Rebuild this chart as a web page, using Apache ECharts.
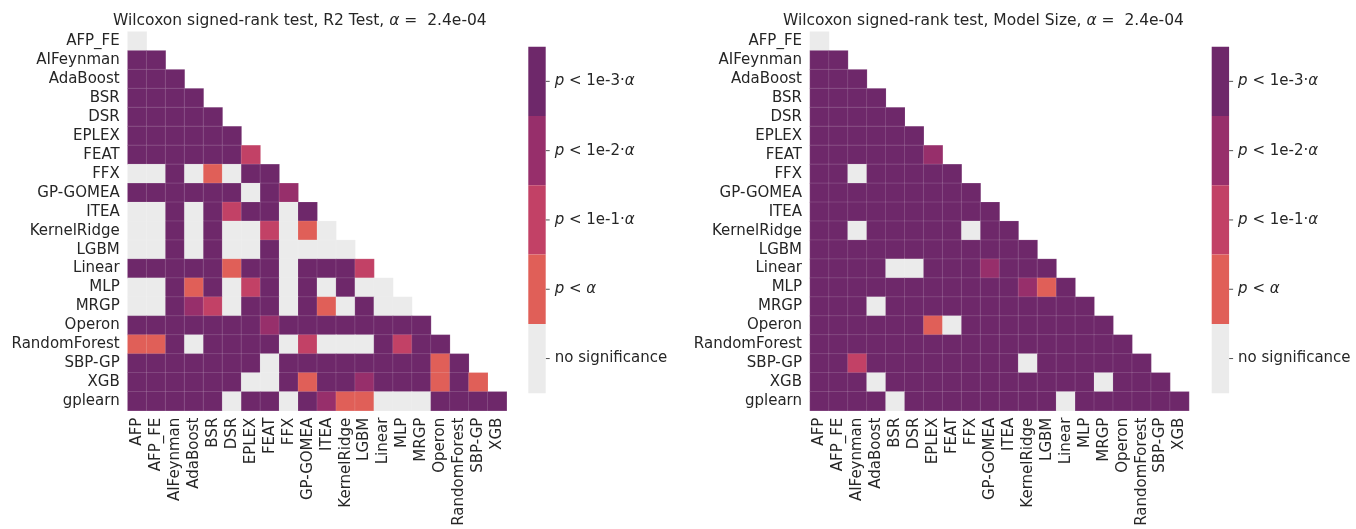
<!DOCTYPE html>
<html>
<head>
<meta charset="utf-8">
<script src="https://cdn.jsdelivr.net/npm/echarts@6/dist/echarts.min.js"></script>
<style>
  html, body { margin: 0; padding: 0; background: #ffffff; }
  #chart { width: 1356px; height: 529px; }
</style>
</head>
<body>
<div id="chart"></div>
<script>
// Methods compared pairwise (lower triangle: row method vs. column method)
const methods = ['AFP', 'AFP_FE', 'AIFeynman', 'AdaBoost', 'BSR', 'DSR', 'EPLEX', 'FEAT', 'FFX',
  'GP-GOMEA', 'ITEA', 'KernelRidge', 'LGBM', 'Linear', 'MLP', 'MRGP', 'Operon', 'RandomForest',
  'SBP-GP', 'XGB', 'gplearn'];
const rowLabels = methods.slice(1);
const colLabels = methods.slice(0, -1);

// Significance level per pair: 0 none, 1 p<α, 2 p<1e-1·α, 3 p<1e-2·α, 4 p<1e-3·α
const r2TestLevels = [
  [0],
  [4, 4],
  [4, 4, 4],
  [4, 4, 4, 4],
  [4, 4, 4, 4, 4],
  [4, 4, 4, 4, 4, 4],
  [4, 4, 4, 4, 4, 4, 2],
  [0, 0, 4, 0, 1, 0, 4, 4],
  [4, 4, 4, 4, 4, 4, 0, 4, 3],
  [0, 0, 4, 0, 4, 2, 4, 4, 0, 4],
  [0, 0, 4, 0, 4, 0, 0, 2, 0, 1, 0],
  [0, 0, 4, 0, 4, 0, 0, 4, 0, 0, 0, 0],
  [4, 4, 4, 4, 4, 1, 4, 4, 0, 4, 4, 4, 2],
  [0, 0, 4, 1, 4, 0, 2, 4, 0, 4, 0, 4, 0, 0],
  [0, 0, 4, 3, 2, 0, 4, 4, 0, 4, 1, 0, 4, 0, 0],
  [4, 4, 4, 4, 4, 4, 4, 3, 4, 4, 4, 4, 4, 4, 4, 4],
  [1, 1, 4, 0, 4, 4, 4, 4, 0, 2, 0, 0, 0, 4, 2, 4, 4],
  [4, 4, 4, 4, 4, 4, 4, 0, 4, 4, 4, 4, 4, 4, 4, 4, 1, 4],
  [4, 4, 4, 4, 4, 4, 0, 0, 4, 1, 4, 4, 3, 4, 4, 4, 1, 4, 1],
  [4, 4, 4, 4, 4, 0, 4, 4, 0, 4, 3, 1, 1, 0, 0, 0, 4, 4, 4, 4]
];

const modelSizeLevels = [
  [0],
  [4, 4],
  [4, 4, 4],
  [4, 4, 4, 4],
  [4, 4, 4, 4, 4],
  [4, 4, 4, 4, 4, 4],
  [4, 4, 4, 4, 4, 4, 3],
  [4, 4, 0, 4, 4, 4, 4, 4],
  [4, 4, 4, 4, 4, 4, 4, 4, 4],
  [4, 4, 4, 4, 4, 4, 4, 4, 4, 4],
  [4, 4, 0, 4, 4, 4, 4, 4, 0, 4, 4],
  [4, 4, 4, 4, 4, 4, 4, 4, 4, 4, 4, 4],
  [4, 4, 4, 4, 0, 0, 4, 4, 4, 3, 4, 4, 4],
  [4, 4, 4, 4, 4, 4, 4, 4, 4, 4, 4, 3, 1, 4],
  [4, 4, 4, 0, 4, 4, 4, 4, 4, 4, 4, 4, 4, 4, 4],
  [4, 4, 4, 4, 4, 4, 1, 0, 4, 4, 4, 4, 4, 4, 4, 4],
  [4, 4, 4, 4, 4, 4, 4, 4, 4, 4, 4, 4, 4, 4, 4, 4, 4],
  [4, 4, 2, 4, 4, 4, 4, 4, 4, 4, 4, 0, 4, 4, 4, 4, 4, 4],
  [4, 4, 4, 0, 4, 4, 4, 4, 4, 4, 4, 4, 4, 4, 4, 0, 4, 4, 4],
  [4, 4, 4, 4, 0, 4, 4, 4, 4, 4, 4, 4, 4, 0, 4, 4, 4, 4, 4, 4]
];

const panelTitles = ['R2 Test', 'Model Size'];
const alphaText = '2.4e-04';

const levelColors = ['#ebebeb', '#e05f58', '#c24166', '#972f6b', '#6e286a'];
const levelLabels = [
  'no significance',
  '{i|p} < {i|α}',
  '{i|p} < 1e-1·{i|α}',
  '{i|p} < 1e-2·{i|α}',
  '{i|p} < 1e-3·{i|α}'
];

const FONT = 'DejaVu Sans';
const TEXT = '#262626';

// panel geometry
const gridTop = 31.7, gridSize = 379;
const panelLeft = [127.7, 810];
const titleLeft = [113, 783];
const barLeft = [528.3, 1211.7];
const barTop = 46.7, barW = 17.4, barItemH = 69.3;

function toCells(levels) {
  const out = [];
  levels.forEach((row, r) => row.forEach((v, c) => out.push([c, r, v])));
  return out;
}

const chart = echarts.init(document.getElementById('chart'), null, { renderer: 'canvas' });

const grids = [], xAxes = [], yAxes = [], series = [], visualMaps = [], titles = [], graphics = [];
[r2TestLevels, modelSizeLevels].forEach((levels, k) => {
  grids.push({ left: panelLeft[k], top: gridTop, width: gridSize, height: gridSize, containLabel: false });
  xAxes.push({
    type: 'category', gridIndex: k, data: colLabels, position: 'bottom',
    axisLine: { show: false }, axisTick: { show: false }, splitLine: { show: false },
    axisLabel: { rotate: 90, interval: 0, margin: 7, fontFamily: FONT, fontSize: 15, color: TEXT }
  });
  yAxes.push({
    type: 'category', gridIndex: k, data: rowLabels, inverse: true,
    axisLine: { show: false }, axisTick: { show: false }, splitLine: { show: false },
    axisLabel: { interval: 0, margin: 8, fontFamily: FONT, fontSize: 15, color: TEXT }
  });
  series.push({
    type: 'heatmap', xAxisIndex: k, yAxisIndex: k, data: toCells(levels),
    itemStyle: { borderColor: 'rgba(255,255,255,0.22)', borderWidth: 0.6 },
    emphasis: { disabled: true }
  });
  visualMaps.push({
    type: 'piecewise', seriesIndex: k, dimension: 2,
    orient: 'vertical', left: barLeft[k], top: barTop, padding: 0,
    itemWidth: barW, itemHeight: barItemH, itemGap: 0, itemSymbol: 'rect',
    textGap: 9, align: 'left', hoverLink: false, selectedMode: false,
    pieces: [4, 3, 2, 1, 0].map(v => ({ value: v, label: levelLabels[v], color: levelColors[v] })),
    textStyle: { fontFamily: FONT, fontSize: 15, color: TEXT, rich: { i: { fontStyle: 'italic', fontFamily: FONT, fontSize: 15, color: TEXT } } }
  });
  titles.push({
    text: '{n|Wilcoxon signed-rank test, ' + panelTitles[k] + ', }{i|α}{n| =  ' + alphaText + '}',
    left: titleLeft[k], top: 13, padding: 0,
    textStyle: {
      fontWeight: 'normal',
      rich: {
        n: { fontFamily: FONT, fontSize: 15.5, fontWeight: 'normal', color: TEXT },
        i: { fontFamily: FONT, fontSize: 15.5, fontWeight: 'normal', color: TEXT, fontStyle: 'italic' }
      }
    }
  });
  // small tick dashes on the colour bar
  for (let j = 0; j < 5; j++) {
    const y = barTop + barItemH * (j + 0.5);
    graphics.push({ type: 'line', shape: { x1: barLeft[k] + barW, y1: y, x2: barLeft[k] + barW + 4, y2: y },
      style: { stroke: TEXT, lineWidth: 0.8 }, silent: true });
  }
});

chart.setOption({
  animation: false,
  backgroundColor: '#ffffff',
  title: titles,
  grid: grids,
  xAxis: xAxes,
  yAxis: yAxes,
  visualMap: visualMaps,
  series: series,
  graphic: graphics
});
</script>
</body>
</html>
